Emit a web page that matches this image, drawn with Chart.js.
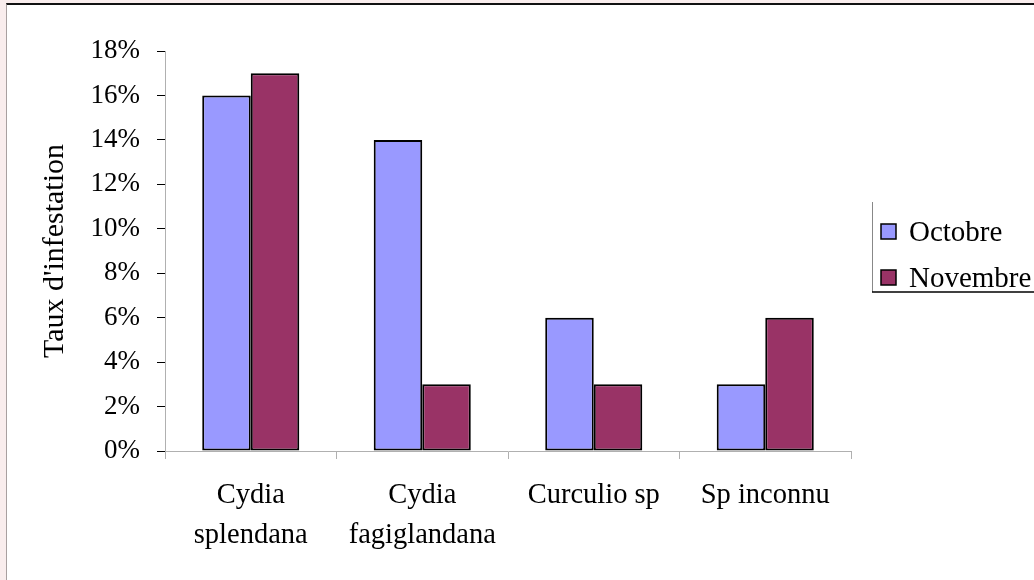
<!DOCTYPE html>
<html>
<head>
<meta charset="utf-8">
<script src="https://cdn.jsdelivr.net/npm/chart.js@4"></script>
<style>
    html, body { margin: 0; padding: 0; background: #f9eded; width: 1034px; height: 580px; overflow: hidden; }
    #frame {
        position: absolute; left: 6px; top: 3px; width: 1028px; height: 577px;
        background: #fff; border-top: 2px solid #111; border-left: 1px solid #a8a0a0;
    }
    #chart { position: absolute; left: 0; top: 0; }
</style>
</head>
<body>
<div id="frame"><canvas id="chart" width="1027" height="575"></canvas></div>
<script>
// données
const categories = [['Cydia', 'splendana'], ['Cydia', 'fagiglandana'], 'Curculio sp', 'Sp inconnu'];
const octobre = [0.16, 0.14, 0.06, 0.03];
const novembre = [0.17, 0.03, 0.03, 0.06];
const seriesNames = ['Octobre', 'Novembre'];
const seriesColors = ['#9999ff', '#993366'];
const yMax = 0.18;
const yStep = 0.02;

const FONT = 'Liberation Serif, Times New Roman, serif';

// légende encadrée à droite (coupée par le bord droit)
const boxLegend = {
    id: 'boxLegend',
    afterDraw(chart) {
        const ctx = chart.ctx;
        const x = 865, y = 197, w = 200, h = 90;
        ctx.save();
        ctx.lineWidth = 1;
        ctx.strokeStyle = '#888';
        ctx.beginPath();
        ctx.moveTo(x + 0.5, y);
        ctx.lineTo(x + 0.5, y + h);
        ctx.stroke();
        ctx.strokeStyle = '#000';
        ctx.lineWidth = 1.5;
        ctx.beginPath();
        ctx.moveTo(x, y + h);
        ctx.lineTo(x + w, y + h);
        ctx.stroke();
        ctx.font = '29px ' + FONT;
        ctx.textBaseline = 'middle';
        chart.data.datasets.forEach((ds, i) => {
            const cy = y + 30 + i * 46;
            ctx.fillStyle = ds.backgroundColor;
            ctx.fillRect(x + 9, cy - 8, 15, 15);
            ctx.strokeStyle = '#000';
            ctx.lineWidth = 1.5;
            ctx.strokeRect(x + 9, cy - 8, 15, 15);
            ctx.fillStyle = '#000';
            ctx.fillText(ds.label, x + 37, cy + 1);
        });
        ctx.restore();
    }
};

new Chart(document.getElementById('chart'), {
    type: 'bar',
    data: {
        labels: categories,
        datasets: [octobre, novembre].map((d, i) => ({
            label: seriesNames[i],
            data: d,
            backgroundColor: seriesColors[i],
            borderColor: '#000',
            borderWidth: 2,
            borderSkipped: false,
            categoryPercentage: 0.566,
            barPercentage: 1.0
        }))
    },
    options: {
        responsive: false,
        animation: false,
        layout: { padding: { top: 46, right: 183, left: 0, bottom: 0 } },
        plugins: {
            legend: { display: false },
            tooltip: { enabled: false }
        },
        scales: {
            x: {
                afterFit(scale) { scale.height = 129; },
                grid: { offset: true, drawOnChartArea: false, color: '#b0b0b0', tickLength: 8 },
                border: { color: '#b0b0b0' },
                ticks: {
                    color: '#000', maxRotation: 0, autoSkip: false, padding: 17,
                    font: { family: FONT, size: 28.5, lineHeight: 1.4 }
                }
            },
            y: {
                min: 0,
                max: yMax,
                afterFit(scale) { scale.width = 158; },
                grid: { drawOnChartArea: false, tickLength: 8, tickColor: '#000' },
                border: { color: '#b0b0b0' },
                ticks: {
                    stepSize: yStep, color: '#000', padding: 17,
                    font: { family: FONT, size: 27 },
                    callback: v => Math.round(v * 100) + '%'
                },
                title: {
                    display: true,
                    text: "Taux d'infestation",
                    color: '#000',
                    padding: { top: 30, bottom: 0 },
                    font: { family: FONT, size: 30 }
                }
            }
        }
    },
    plugins: [boxLegend]
});
</script>
</body>
</html>
